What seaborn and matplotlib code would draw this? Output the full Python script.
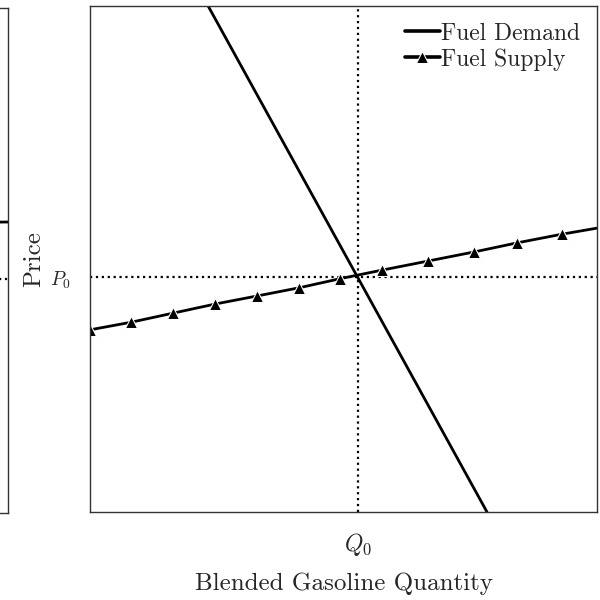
import matplotlib
matplotlib.use('Agg')
import matplotlib.pyplot as plt
import seaborn as sns

# equilibrium values
q0 = 5.29
p0 = 4.64

# demand curve end points
demand_q = [2.33, 7.83]
demand_p = [10.0, 0.0]

# supply curve (markers at every point except the last)
supply_q = [0.0, 0.81, 1.64, 2.47, 3.30, 4.12, 4.93, 5.76, 6.67, 7.58, 8.43, 9.31, 10.0]
supply_p = [3.60, 3.75, 3.93, 4.11, 4.27, 4.43, 4.61, 4.78, 4.96, 5.14, 5.32, 5.49, 5.61]

# fragment of the neighbouring panel
left_q = [0.0, 10.0]
left_p = [5.70, 5.76]

sns.set_theme(style='white')
plt.rcParams['font.family'] = ['cmr10', 'DejaVu Serif']
plt.rcParams['mathtext.fontset'] = 'cm'
plt.rcParams['axes.formatter.use_mathtext'] = True

fig = plt.figure(figsize=(6, 6), dpi=100)

# partial left panel
axl = fig.add_axes([-0.5, 0.145, 0.5133, 0.842])
sns.lineplot(x=left_q, y=left_p, color='black', linewidth=2, ax=axl)
axl.axhline(p0, color='black', linestyle=':', linewidth=1.6)
axl.set_xlim(0, 10)
axl.set_ylim(0, 10)
axl.set_xticks([])
axl.set_yticks([])
for s in axl.spines.values():
    s.set_color('#333333')
    s.set_linewidth(1.0)

ax = fig.add_axes([0.15, 0.1467, 0.845, 0.8433])
sns.lineplot(x=demand_q, y=demand_p, color='black', linewidth=2,
             label='Fuel Demand', ax=ax)
sns.lineplot(x=supply_q, y=supply_p, color='black', linewidth=2,
             marker='^', markersize=9, markevery=list(range(12)),
             label='Fuel Supply', ax=ax)
ax.axhline(p0, color='black', linestyle=':', linewidth=1.6, zorder=1)
ax.axvline(q0, color='black', linestyle=':', linewidth=1.6, zorder=1)

ax.set_xlim(0, 10)
ax.set_ylim(0, 10)
ax.set_xticks([q0])
ax.set_xticklabels([r'$Q_0$'], fontsize=17)
ax.set_yticks([p0])
ax.set_yticklabels([r'$P_0$'], fontsize=14)
ax.tick_params(axis='x', length=0, pad=14)
ax.tick_params(axis='y', length=0, pad=14)
ax.set_xlabel('Blended Gasoline Quantity', fontsize=18, labelpad=10)
ax.set_ylabel('Price', fontsize=18, labelpad=3)
for s in ax.spines.values():
    s.set_color('#333333')
    s.set_linewidth(1.0)

leg = ax.legend(loc='upper right', frameon=False, fontsize=17,
                handlelength=1.5, handletextpad=0.05, labelspacing=0.15,
                borderaxespad=0.3)
for h in leg.get_lines():
    h.set_linewidth(2.6)

fig.savefig('out.png', dpi=100)
